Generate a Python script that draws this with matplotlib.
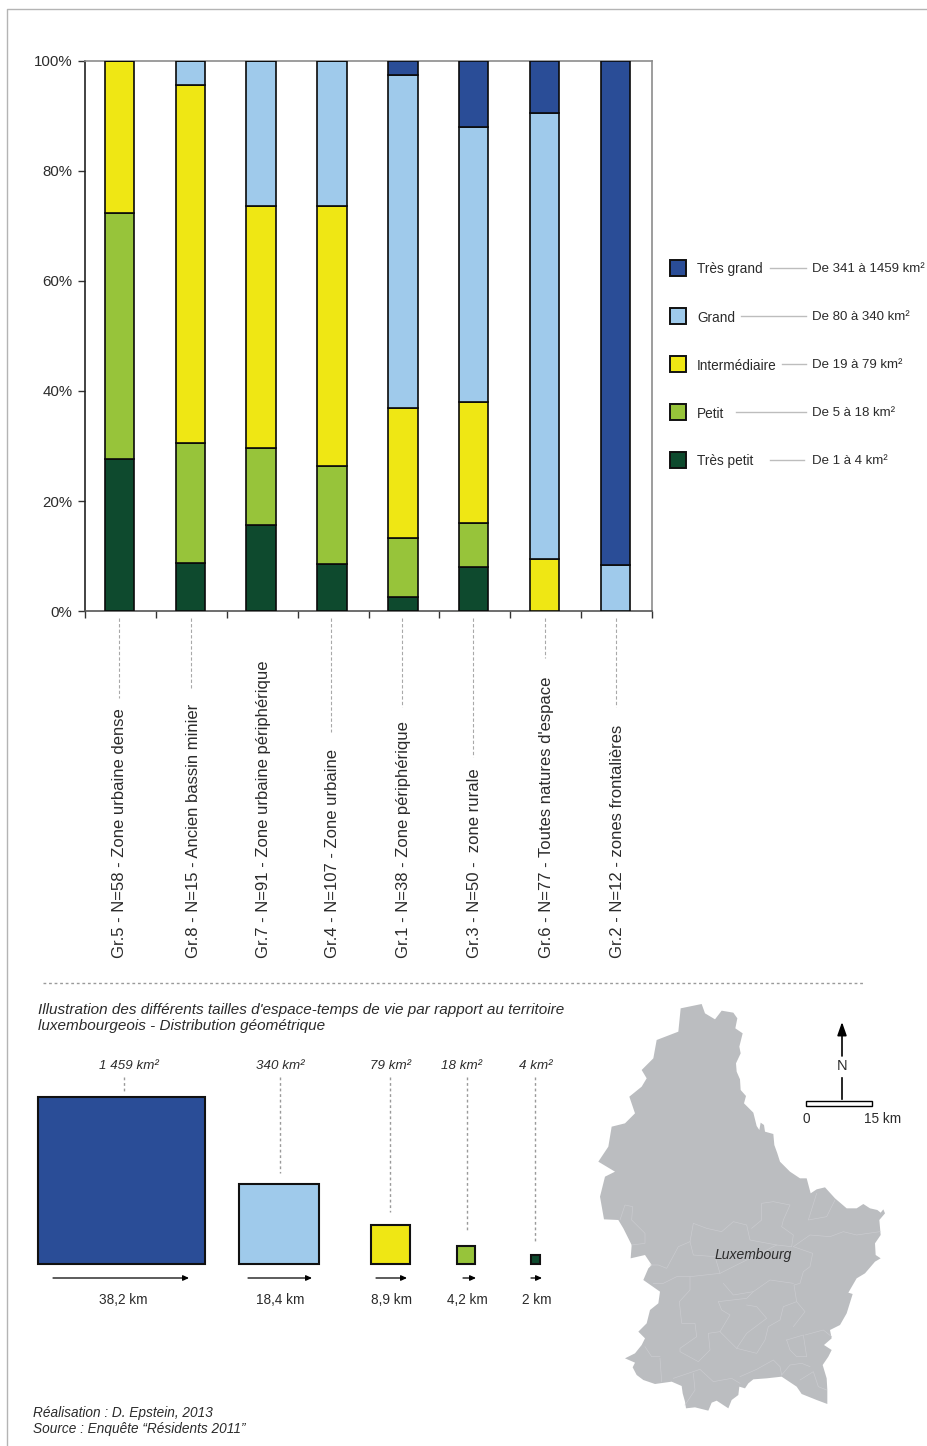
import matplotlib
matplotlib.use('Agg')
import matplotlib.pyplot as plt
from matplotlib.patches import Polygon, Rectangle

plt.rcParams['font.family'] = ['Liberation Sans', 'DejaVu Sans']

# stacked bars
groupes = ['Gr.5 - N=58 - Zone urbaine dense', 'Gr.8 - N=15 - Ancien bassin minier',
           'Gr.7 - N=91 - Zone urbaine périphérique', 'Gr.4 - N=107 - Zone urbaine',
           'Gr.1 - N=38 - Zone périphérique', 'Gr.3 - N=50 -  zone rurale',
           "Gr.6 - N=77 - Toutes natures d'espace", 'Gr.2 - N=12 - zones frontalières']
tres_petit = [27.7, 8.8, 15.6, 8.5, 2.6, 8.0, 0, 0]
petit = [44.6, 21.7, 14.1, 17.9, 10.6, 8.0, 0, 0]
intermediaire = [27.7, 65.1, 43.9, 47.2, 23.8, 22.0, 9.4, 0]
grand = [0, 4.4, 26.4, 26.4, 60.4, 50.0, 81.2, 8.3]
tres_grand = [0, 0, 0, 0, 2.6, 12.0, 9.4, 91.7]
couleurs = ['#0E4A2E', '#97C43A', '#EFE714', '#9FCAEB', '#2A4D97']

classes = ['Très grand', 'Grand', 'Intermédiaire', 'Petit', 'Très petit']
classes_km = ['De 341 à 1459 km²', 'De 80 à 340 km²', 'De 19 à 79 km²', 'De 5 à 18 km²', 'De 1 à 4 km²']

# squares of the lower panel
surfaces = ['1 459 km²', '340 km²', '79 km²', '18 km²', '4 km²']
cotes_km = [38.2, 18.4, 8.9, 4.2, 2]
cotes_txt = ['38,2 km', '18,4 km', '8,9 km', '4,2 km', '2 km']

# Luxembourg outline (pixels of two crops)
nord = [(272, 55), (335, 42), (345, 70), (375, 88), (395, 62), (430, 68), (442, 85), (436, 115), (458, 130),
        (448, 170), (452, 190), (438, 220), (440, 245), (450, 268), (452, 300), (468, 318), (462, 340), (490, 368),
        (500, 408), (508, 420), (512, 398), (522, 405), (525, 425), (550, 432), (553, 465), (562, 490), (570, 515),
        (600, 545), (630, 565), (650, 565), (662, 610), (680, 598), (705, 592), (735, 625), (770, 655), (800, 655),
        (820, 642), (840, 655), (862, 660), (872, 668), (880, 658), (885, 670), (868, 690), (872, 735), (855, 760),
        (857, 795), (872, 805), (855, 815), (825, 850), (800, 865), (775, 908), (788, 912), (770, 970), (750, 1005),
        (720, 1020), (725, 1045), (702, 1065), (725, 1080), (715, 1100), (698, 1125), (710, 1165), (712, 1200)]
sud = [(652, 372), (620, 360), (575, 342), (560, 320), (548, 312), (515, 290), (470, 295), (430, 298), (415, 310),
       (405, 325), (388, 320), (385, 345), (365, 360), (355, 385), (320, 362), (305, 368), (295, 392), (255, 382),
       (228, 385), (225, 365), (218, 340), (215, 318), (185, 305), (135, 312), (100, 300), (80, 285), (68, 262),
       (75, 248), (45, 235), (75, 220), (95, 195), (105, 175), (85, 155), (110, 130), (120, 90), (145, 70), (150, 35)]
ouest = [(160, 870), (175, 835), (185, 825), (165, 795), (122, 805), (125, 765), (100, 715), (85, 690), (42, 688),
         (30, 620), (45, 560), (75, 545), (25, 515), (55, 470), (65, 410), (105, 400), (135, 370), (118, 320),
         (155, 290), (170, 265), (155, 240), (190, 205), (200, 150), (265, 125)]
limites_nord = [
    [(610, 770), (660, 735), (720, 740), (760, 725), (800, 735), (870, 725)],
    [(610, 770), (668, 790), (660, 830), (640, 845), (630, 880), (612, 885), (620, 935), (645, 965), (610, 1010)],
    [(680, 610), (655, 690), (710, 680), (735, 630)],
    [(485, 715), (515, 690), (515, 640), (550, 635), (600, 645), (580, 690), (575, 710), (610, 735), (605, 770),
     (560, 765), (480, 750), (470, 705), (430, 695), (395, 725), (350, 715), (310, 700), (300, 755), (265, 770),
     (230, 835), (205, 825), (180, 825)],
    [(125, 765), (165, 760), (165, 730), (125, 690), (128, 650), (105, 645), (90, 690)],
    [(300, 755), (310, 795), (375, 800), (390, 850), (345, 855), (300, 860), (260, 860), (220, 880), (190, 880)],
    [(390, 850), (480, 805), (560, 765)],
    [(300, 860), (300, 900), (268, 935), (275, 1000), (315, 1000), (320, 1040), (270, 1075), (270, 1085), (325, 1115),
     (360, 1080), (355, 1030), (390, 1025), (440, 1075), (500, 1090), (525, 1050), (535, 1010), (570, 990), (580, 950),
     (620, 935)],
    [(385, 935), (470, 925), (490, 905), (540, 870), (610, 880)],
    [(400, 880), (430, 915), (490, 905)],
    [(385, 935), (395, 960), (420, 975), (390, 1025)],
    [(470, 945), (500, 950), (530, 985), (470, 1030), (440, 1075)],
    [(590, 1050), (640, 1035), (650, 1100), (620, 1100), (600, 1080), (590, 1050)],
    [(645, 1035), (700, 1020), (725, 1040)],
]
limites_sud = [
    [(190, 295), (270, 268), (310, 305), (365, 295), (390, 310)],
    [(250, 280), (255, 330), (225, 375)],
    [(390, 290), (440, 268), (490, 240), (510, 260), (515, 285)],
    [(515, 285), (540, 255), (575, 250), (600, 260)],
    [(570, 300), (610, 275), (625, 320), (650, 330)],
    [(150, 235), (155, 305)],
    [(105, 200), (125, 230), (150, 230)],
]


def crop1(pts):
    return [(590 + x / 3, 990 + y / 3) for x, y in pts]


def crop2(pts):
    return [(610 + x / 3, 1280 + y / 3) for x, y in pts]


W, H = 927, 1446
TXT = '#2b2b2b'
fig = plt.figure(figsize=(W / 100, H / 100), dpi=100, facecolor='white')

# full page layer in pixels
page = fig.add_axes([0, 0, 1, 1])
page.set_xlim(0, W)
page.set_ylim(H, 0)
page.axis('off')

page.plot([7, 7, W], [H, 9, 9], color='#b4b4b4', lw=1)
page.plot([43, 865], [983, 983], color='#9a9a9a', lw=1, ls=(0, (2, 2)))

# chart
ax = fig.add_axes([85 / W, 1 - 611 / H, (652 - 85) / W, 550 / H])
x = range(len(groupes))
bas = [0] * len(groupes)
for serie, c in zip([tres_petit, petit, intermediaire, grand, tres_grand], couleurs):
    ax.bar([i - 0.015 for i in x], serie, 0.415, bottom=bas, color=c, edgecolor='#0a0a0a', lw=1.2, zorder=3)
    bas = [b + s for b, s in zip(bas, serie)]
ax.set_xlim(-0.5, 7.5)
ax.set_ylim(0, 100)
ax.set_yticks([0, 20, 40, 60, 80, 100])
ax.set_yticklabels(['0%', '20%', '40%', '60%', '80%', '100%'], fontsize=10.8, color=TXT)
ax.set_xticks([i - 0.5 for i in range(9)])
ax.set_xticklabels([])
ax.tick_params(axis='both', length=5, width=1, color='#333333', pad=4)
ax.spines['left'].set_color('#222222')
ax.spines['right'].set_color('#8c8c8c')
ax.spines['top'].set_color('#8c8c8c')
ax.spines['bottom'].set_color('#555555')
for s in ['top', 'bottom', 'right', 'left']:
    ax.spines[s].set_linewidth(1.2)

# vertical labels with their leaders
lab_x = [120, 194, 264, 333, 404, 475, 547, 618]
lead_x = [119, 191, None, 331, 402, 473, 545, 616]
lead_fin = [698, 688, None, 732, 707, 757, 658, 707]
for g, lx, fx, fy in zip(groupes, lab_x, lead_x, lead_fin):
    page.text(lx, 958, g, rotation=90, ha='center', va='bottom', fontsize=12, color=TXT)
    if fx is not None:
        page.plot([fx, fx], [618, fy], color='#a8a8a8', lw=0.8, ls=(0, (3, 2)))

# legend
leg_y = [268, 316, 364, 412, 460]
leg_deb = [770, 741, 782, 736, 770]
leg_fin = [806, 806, 806, 806, 804]
for cl, km, c, ly, d, f in zip(classes, classes_km, couleurs[::-1], leg_y, leg_deb, leg_fin):
    page.add_patch(Rectangle((670, ly - 8), 16, 16, fc=c, ec='#111111', lw=1.4))
    page.text(697, ly + 1.5, cl, va='center', fontsize=9.8, color=TXT)
    page.plot([d, f], [ly, ly], color='#bdbdbd', lw=1)
    page.text(812, ly + 1.5, km, va='center', fontsize=9.5, color=TXT)

# lower panel
page.text(38, 1010, "Illustration des différents tailles d'espace-temps de vie par rapport au territoire",
          style='italic', va='center', fontsize=11, color=TXT)
page.text(38, 1026, 'luxembourgeois - Distribution géométrique', style='italic', va='center', fontsize=11, color=TXT)

carre_g = [38, 239, 371, 457, 531]
sup_x = [129, 280, 391, 462, 536]
pt_x = [124, 280, 390, 467, 535]
pt_fin = [1092, 1173, 1212, 1230, 1242]
fl_deb = [53, 248, 376, 463, 531]
fl_fin = [189, 312, 407, 476, 542]
cote_x = [123, 280, 392, 467, 537]
ech = 4.37  # px par km
for i in range(5):
    s = cotes_km[i] * ech
    page.add_patch(Rectangle((carre_g[i], 1264 - s), s, s, fc=couleurs[4 - i], ec='#111111', lw=1.5, zorder=3))
    page.text(sup_x[i], 1066, surfaces[i], style='italic', ha='center', va='center', fontsize=9.6, color=TXT)
    page.plot([pt_x[i], pt_x[i]], [1077, pt_fin[i]], color='#9a9a9a', lw=1, ls=(0, (2, 2)))
    page.annotate('', xy=(fl_fin[i], 1278), xytext=(fl_deb[i], 1278),
                  arrowprops=dict(arrowstyle='-|>,head_length=0.35,head_width=0.16', color='black', lw=0.9,
                                  shrinkA=0, shrinkB=0))
    page.text(cote_x[i], 1299.5, cotes_txt[i], ha='center', va='center', fontsize=9.8, color=TXT)

# map
contour = crop1(nord) + crop2(sud) + crop1(ouest)
page.add_patch(Polygon(contour, closed=True, fc='#BBBDC0', ec='none', zorder=1))
for l in limites_nord:
    xs, ys = zip(*crop1(l))
    page.plot(xs, ys, color='#cbccd0', lw=0.45, zorder=2)
for l in limites_sud:
    xs, ys = zip(*crop2(l))
    page.plot(xs, ys, color='#cbccd0', lw=0.45, zorder=2)
page.text(753, 1255.5, 'Luxembourg', style='italic', ha='center', va='center', fontsize=10, color=TXT, zorder=4)

# north arrow and scale
page.annotate('', xy=(842, 1022), xytext=(842, 1056),
              arrowprops=dict(arrowstyle='-|>,head_length=0.8,head_width=0.28', color='black', lw=1.2,
                              shrinkA=0, shrinkB=0))
page.text(842, 1066.5, 'N', ha='center', va='center', fontsize=10.5, color=TXT)
page.plot([842, 842], [1078, 1099], color='black', lw=1.2)
page.add_patch(Rectangle((806, 1101), 66, 5, fc='white', ec='black', lw=1))
page.text(806, 1119, '0', ha='center', va='center', fontsize=9.8, color=TXT)
page.text(883, 1119, '15 km', ha='center', va='center', fontsize=9.8, color=TXT)

# credits
page.text(33, 1412.5, 'Réalisation : D. Epstein, 2013', style='italic', va='center', fontsize=9.8, color=TXT)
page.text(33, 1429, 'Source : Enquête “Résidents 2011”', style='italic', va='center', fontsize=9.8, color=TXT)

fig.savefig('out.png', dpi=100)
